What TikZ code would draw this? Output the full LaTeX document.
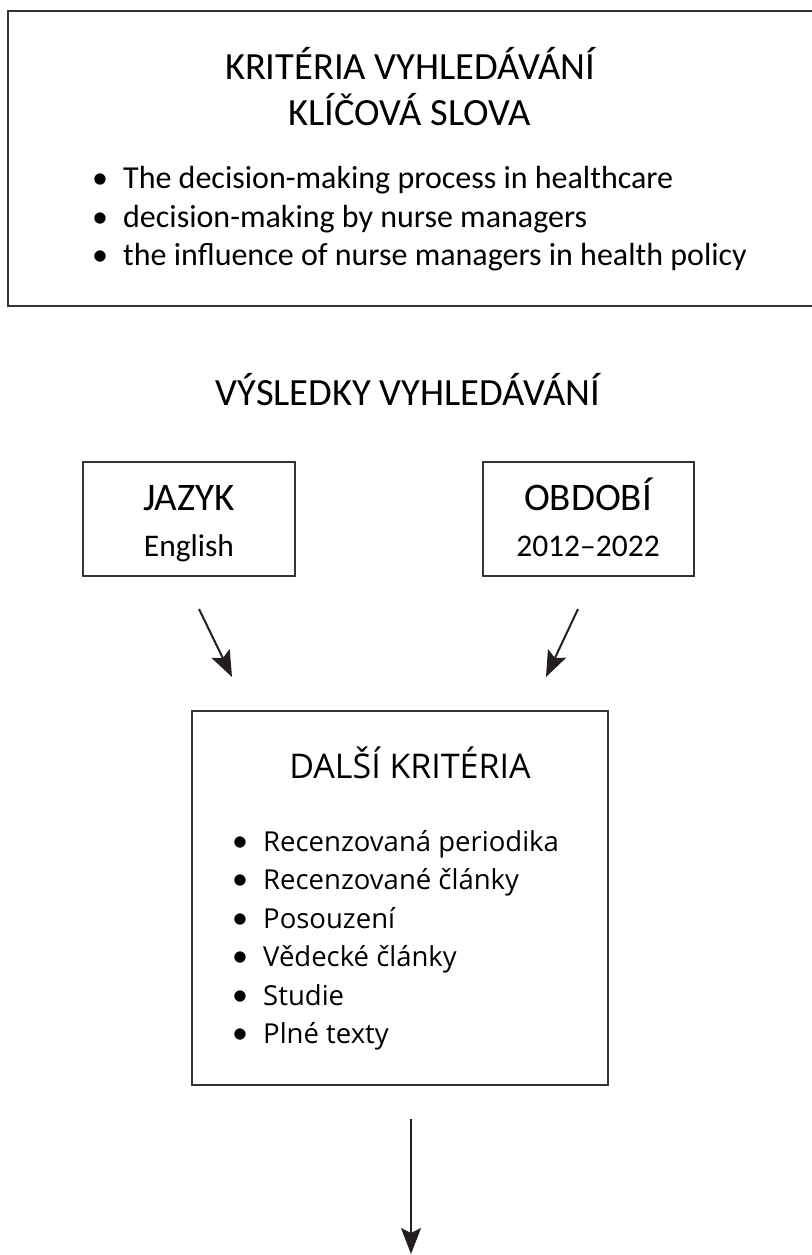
\documentclass[tikz,border=0pt]{standalone}
\usepackage{fontspec}
\setmainfont{Carlito}
\newfontfamily\osfont{Open Sans}
\usetikzlibrary{arrows.meta}
\definecolor{ink}{HTML}{231F20}
\definecolor{frame}{HTML}{333333}
\newcommand{\bigdot}{\makebox[0pt][c]{\normalfont\fontsize{32}{34}\selectfont\textbullet}\hspace{23pt}}
\begin{document}
\begin{tikzpicture}[x=1pt,y=-1pt,
  frm/.style={draw=frame, line width=1.3pt, inner sep=0pt, rectangle},
  ttl/.style={anchor=base, inner sep=0pt, font=\fontsize{38.5}{40}\selectfont},
  boxttl/.style={anchor=base, inner sep=0pt, font=\fontsize{39}{40}\selectfont},
  boxsub/.style={anchor=base, inner sep=0pt, font=\fontsize{31.5}{34}\selectfont},
  itemA/.style={anchor=base west, inner sep=0pt, font=\fontsize{32}{34}\selectfont},
  itemB/.style={anchor=base west, inner sep=0pt, font=\osfont\fontsize{27.5}{30}\selectfont},
  ttlB/.style={anchor=base, inner sep=0pt, font=\osfont\fontsize{34}{36}\selectfont},
  arr/.style={draw=ink, line width=2pt, -{Stealth[length=26pt,width=20pt,inset=5pt]}}
]
\useasboundingbox (0,0) rectangle (811,1255);
% top box
\node[frm, minimum width=822pt, minimum height=295pt] (kw) at (419,158.5) {};
\node[ttl] (kwt1) at (410,79) {KRITÉRIA VYHLEDÁVÁNÍ};
\node[ttl] (kwt2) at (410,125) {KLÍČOVÁ SLOVA};
\node[itemA] (kw1) at (100,188) {\bigdot The decision-making process in healthcare};
\node[itemA] (kw2) at (100,227) {\bigdot decision-making by nurse managers};
\node[itemA] (kw3) at (100,265) {\bigdot the influence of nurse managers in health policy};
% results heading
\node[ttl] (res) at (408,405) {VÝSLEDKY VYHLEDÁVÁNÍ};
% language box
\node[frm, minimum width=212pt, minimum height=114pt] (lang) at (189,519) {};
\node[boxttl] (langt) at (189,510) {JAZYK};
\node[boxsub] (langs) at (189,556) {English};
% period box
\node[frm, minimum width=211pt, minimum height=114pt] (per) at (588.5,519) {};
\node[boxttl] (pert) at (588,510) {OBDOBÍ};
\node[boxsub] (pers) at (588,556) {2012–2022};
% further criteria box
\node[frm, minimum width=416pt, minimum height=374pt] (more) at (400,898) {};
\node[ttlB] (moret) at (410,778) {DALŠÍ KRITÉRIA};
\node[itemB] (m1) at (240,851) {\bigdot Recenzovaná periodika};
\node[itemB] (m2) at (240,889) {\bigdot Recenzované články};
\node[itemB] (m3) at (240,928) {\bigdot Posouzení};
\node[itemB] (m4) at (240,966) {\bigdot Vědecké články};
\node[itemB] (m5) at (240,1005) {\bigdot Studie};
\node[itemB] (m6) at (240,1043) {\bigdot Plné texty};
% arrows
\coordinate (a1s) at (199,609);
\coordinate (a1e) at (232,677);
\coordinate (a2s) at (578,609);
\coordinate (a2e) at (546,677);
\coordinate (a3s) at (411,1119);
\coordinate (a3e) at (411,1254);
\draw[arr] (a1s) -- (a1e);
\draw[arr] (a2s) -- (a2e);
\draw[arr] (a3s) -- (a3e);
\end{tikzpicture}
\end{document}
